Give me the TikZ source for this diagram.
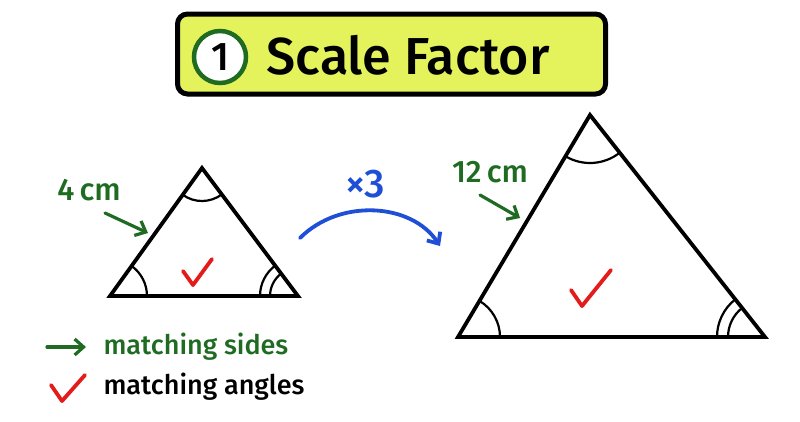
\documentclass[tikz,border=0pt]{standalone}
\usepackage{fontspec}
\setmainfont{Fira Sans}
\newfontfamily\markerfont{Fira Sans Medium}
\usepackage{xcolor}
\usetikzlibrary{positioning,angles,arrows.meta}
\definecolor{bannerfill}{HTML}{E4F25C}
\definecolor{sidegreen}{HTML}{1F6B22}
\definecolor{scaleblue}{HTML}{1E4FD6}
\definecolor{tickred}{HTML}{E31B1B}
\tikzset{>={Straight Barb[length=9pt,width=16pt]}}
\tikzset{
  tri/.style={line width=3.8pt,line join=miter,black},
  arcmark/.style={draw,line width=2.2pt,black},
  tick/.style={line width=3.8pt,line cap=round,line join=round,tickred},
  sidearrow/.style={->,line width=3.2pt,line cap=round,sidegreen},
  sidelabel/.style={text=sidegreen,font=\markerfont\fontsize{31}{33}\selectfont},
  legendtext/.style={anchor=west,font=\markerfont\fontsize{27}{29}\selectfont},
}
\begin{document}
\begin{tikzpicture}[x=1pt,y=-1pt,line cap=round]
	\useasboundingbox (0,0) rectangle (800,421);
	% title banner
	\node[draw,line width=5pt,rounded corners=10pt,fill=bannerfill,minimum width=428pt,minimum height=80pt] (banner) at (391.5,54) {};
	\node[circle,draw=sidegreen,line width=4.5pt,fill=white,minimum size=52pt,inner sep=0pt,font=\markerfont\fontsize{40}{42}\selectfont] (num) at (220,57) {1};
	\node[font=\markerfont\fontsize{52}{54}\selectfont] (title) at (408,55) {Scale Factor};
	% small triangle
	\coordinate (sL) at (110,296);
	\coordinate (sR) at (298,296);
	\coordinate (sT) at (202,168);
	\draw[tri] (sL) -- (sR) -- (sT) -- cycle;
	\pic[arcmark,angle radius=37pt] {angle=sR--sL--sT};
	\pic[arcmark,angle radius=38pt] {angle=sT--sR--sL};
	\pic[arcmark,angle radius=28pt] {angle=sT--sR--sL};
	\pic[arcmark,angle radius=33pt] {angle=sL--sT--sR};
	\draw[tick] (183,271) -- (193,285) -- (212,259);
	\node[sidelabel] (small len) at (89,190) {4\,cm};
	\coordinate (small hit) at (148,233);
	\draw[sidearrow] (105,213) -- (small hit);
	% scale factor
	\node[text=scaleblue,font=\markerfont\fontsize{40}{42}\selectfont] (factor) at (365,184) {×3};
	\coordinate (arc start) at (300,238);
	\coordinate (arc end) at (440,246);
	\draw[->,line width=3.8pt,scaleblue] (arc start) .. controls (340,198) and (412,203) .. (arc end);
	% large triangle
	\coordinate (bL) at (458,337);
	\coordinate (bR) at (765,337);
	\coordinate (bT) at (590,115);
	\draw[tri] (bL) -- (bR) -- (bT) -- cycle;
	\pic[arcmark,angle radius=42pt] {angle=bR--bL--bT};
	\pic[arcmark,angle radius=48pt] {angle=bT--bR--bL};
	\pic[arcmark,angle radius=37pt] {angle=bT--bR--bL};
	\pic[arcmark,angle radius=48pt] {angle=bL--bT--bR};
	\draw[tick] (571,290) -- (582,306) -- (611,270);
	\node[sidelabel] (big len) at (490,172) {12\,cm};
	\coordinate (big hit) at (520,218);
	\draw[sidearrow] (480,195) -- (big hit);
	% legend
	\coordinate (key a) at (47,347);
	\coordinate (key b) at (86,347);
	\draw[sidearrow] (key a) -- (key b);
	\node[legendtext,text=sidegreen] (sides) at (100,347) {matching sides};
	\draw[tick] (51,385) -- (62,401) -- (85,375);
	\node[legendtext] (angles) at (100,387) {matching angles};
\end{tikzpicture}
\end{document}
